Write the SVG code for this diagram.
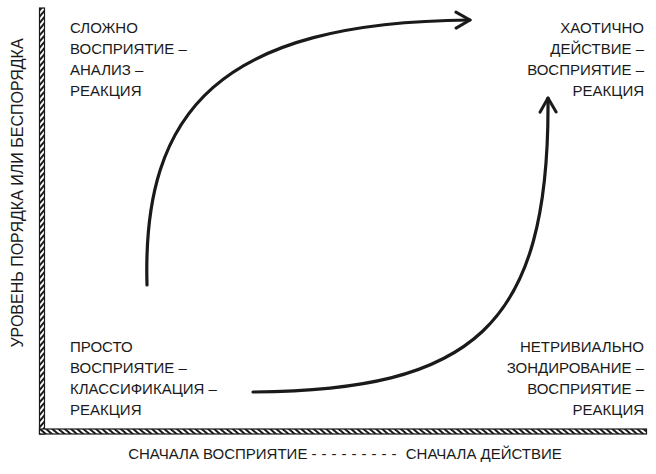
<svg xmlns="http://www.w3.org/2000/svg" width="656" height="474" viewBox="0 0 656 474">
<style>
.t{font-family:"Liberation Sans","DejaVu Sans",sans-serif;font-size:15px;fill:#1a1a1a}
.r{text-anchor:end}
.arr{fill:none;stroke:#1a1a1a;stroke-width:3.2;stroke-linecap:round}
.axis{stroke:#1a1a1a;stroke-width:1.2}
</style>
<defs>
<pattern id="hv" width="4" height="4" patternUnits="userSpaceOnUse" patternTransform="rotate(40)">
<rect width="4" height="4" fill="#fff"/>
<rect width="2" height="4" fill="#1a1a1a"/>
</pattern>
<pattern id="hh" width="4" height="4" patternUnits="userSpaceOnUse" patternTransform="rotate(-50)">
<rect width="4" height="4" fill="#fff"/>
<rect width="2" height="4" fill="#1a1a1a"/>
</pattern>
<marker id="ah" viewBox="0 0 20 20" refX="18" refY="10" markerWidth="20" markerHeight="20" markerUnits="userSpaceOnUse" orient="auto">
<path d="M4,2 L18,10 L4,18" fill="none" stroke="#1a1a1a" stroke-width="3" stroke-linecap="round" stroke-linejoin="round"/>
</marker>
</defs>
<g id="axes">
<rect class="axis" x="39.5" y="8" width="5" height="426" fill="url(#hv)"/>
<rect class="axis" x="39.5" y="429" width="607" height="5" fill="url(#hh)"/>
</g>
<g id="connectors">
<path class="arr" d="M147,285 C142,110 220,22 470,20" marker-end="url(#ah)"/>
<path class="arr" d="M253,392 C470,390 550,330 548,98" marker-end="url(#ah)"/>
</g>
<g id="node-complex">
<text class="t" x="70" y="33">СЛОЖНО</text>
<text class="t" x="70" y="54">ВОСПРИЯТИЕ –</text>
<text class="t" x="70" y="75">АНАЛИЗ –</text>
<text class="t" x="70" y="96">РЕАКЦИЯ</text>
</g>
<g id="node-chaotic">
<text class="t r" x="644" y="33">ХАОТИЧНО</text>
<text class="t r" x="644" y="54">ДЕЙСТВИЕ –</text>
<text class="t r" x="644" y="75">ВОСПРИЯТИЕ –</text>
<text class="t r" x="644" y="96">РЕАКЦИЯ</text>
</g>
<g id="node-simple">
<text class="t" x="70" y="352">ПРОСТО</text>
<text class="t" x="70" y="373">ВОСПРИЯТИЕ –</text>
<text class="t" x="70" y="394">КЛАССИФИКАЦИЯ –</text>
<text class="t" x="70" y="415">РЕАКЦИЯ</text>
</g>
<g id="node-complicated">
<text class="t r" x="644" y="352">НЕТРИВИАЛЬНО</text>
<text class="t r" x="644" y="373">ЗОНДИРОВАНИЕ –</text>
<text class="t r" x="644" y="394">ВОСПРИЯТИЕ –</text>
<text class="t r" x="644" y="415">РЕАКЦИЯ</text>
</g>
<g id="axis-labels">
<text class="t" x="345" y="459" text-anchor="middle">СНАЧАЛА ВОСПРИЯТИЕ <tspan letter-spacing="5">---------</tspan> СНАЧАЛА ДЕЙСТВИЕ</text>
<text class="t" transform="translate(23,193) rotate(-90)" text-anchor="middle" style="font-size:16px">УРОВЕНЬ ПОРЯДКА ИЛИ БЕСПОРЯДКА</text>
</g>
</svg>
